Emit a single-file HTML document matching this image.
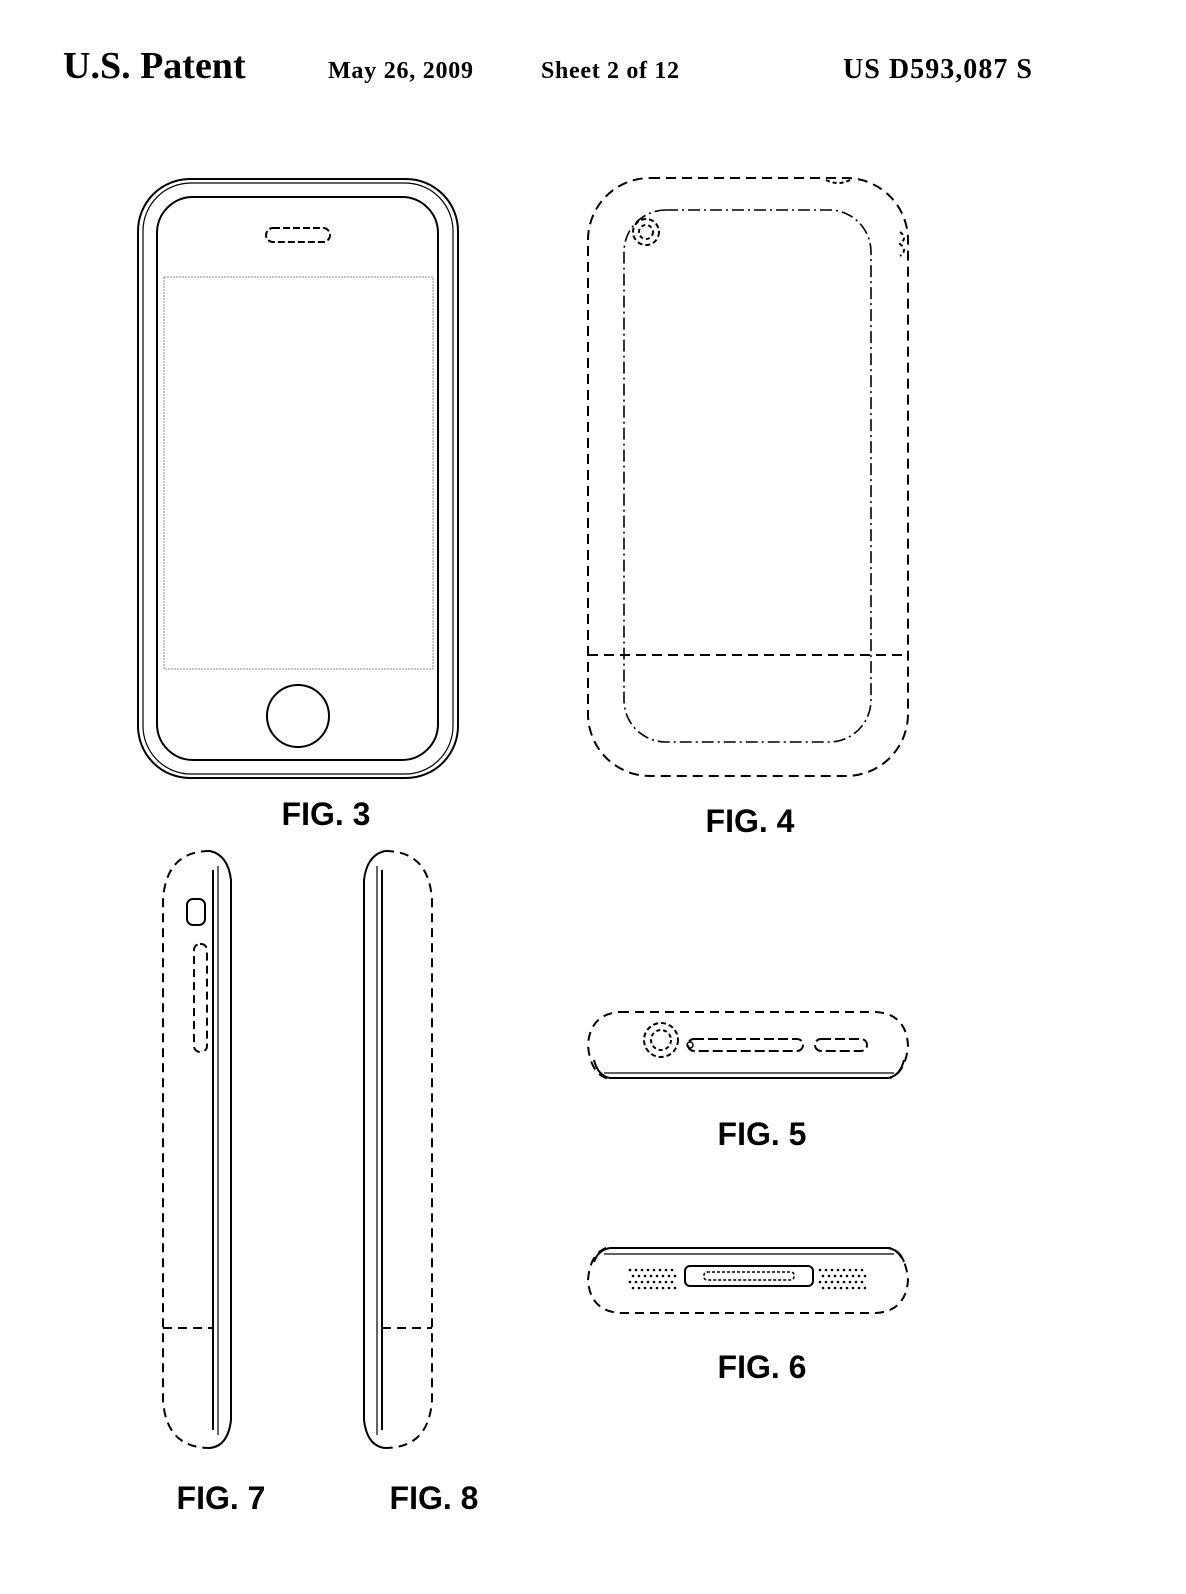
<!DOCTYPE html>
<html><head><meta charset="utf-8"><style>
html,body{margin:0;padding:0;background:#fff;}
svg{display:block;}
</style></head><body>
<svg width="1186" height="1594" viewBox="0 0 1186 1594" xmlns="http://www.w3.org/2000/svg">
<rect width="1186" height="1594" fill="#fff"/>
<g font-family="Liberation Serif, serif" font-weight="bold" fill="#000">
<text x="63" y="78" font-size="38">U.S. Patent</text>
<text x="328" y="78" font-size="24" textLength="145">May 26, 2009</text>
<text x="541" y="78" font-size="24" textLength="138">Sheet 2 of 12</text>
<text x="843" y="78" font-size="28" textLength="189">US D593,087 S</text>
</g>
<g font-family="Liberation Sans, sans-serif" font-weight="bold" font-size="32" fill="#000" text-anchor="middle">
<text x="326" y="825">FIG. 3</text>
<text x="750" y="832">FIG. 4</text>
<text x="762" y="1145">FIG. 5</text>
<text x="762" y="1378">FIG. 6</text>
<text x="221" y="1509">FIG. 7</text>
<text x="434" y="1509">FIG. 8</text>
</g>
<g fill="none" stroke="#000" stroke-width="2">
<rect x="138" y="179" width="320" height="599" rx="52"/>
<rect x="143" y="183" width="310" height="591" rx="48" stroke-width="1.2"/>
<rect x="157" y="197" width="281" height="563" rx="36"/>
<rect x="164" y="277" width="269" height="392" stroke="#888" stroke-width="1" stroke-dasharray="2 1"/>
<rect x="266" y="228" width="64" height="14" rx="7" stroke-dasharray="7 3"/>
<circle cx="298" cy="716" r="31"/>
<rect x="588" y="178" width="320" height="598" rx="62" stroke-dasharray="10 6"/>
<rect x="624" y="210" width="247" height="532" rx="42" stroke-dasharray="12 4 2 4" stroke-width="1.6"/>
<line x1="588" y1="655" x2="908" y2="655" stroke-dasharray="10 6"/>
<circle cx="646" cy="232" r="13" stroke-dasharray="5 3"/>
<circle cx="646" cy="232" r="7" stroke-dasharray="4 3"/>
<path d="M900 232 q8 6 0 12 q8 6 0 12" stroke-dasharray="4 3"/>
<path d="M826 180 q12 6 24 0" stroke-dasharray="4 3"/>
<path d="M210 851 Q166 851 163 900 L163 1400 Q166 1448 210 1448" stroke-dasharray="9 6"/>
<path d="M210 851 Q228 855 231 880 L231 1420 Q228 1446 210 1448"/>
<line x1="213" y1="870" x2="213" y2="1430"/>
<line x1="218" y1="866" x2="218" y2="1435" stroke-width="1.2"/>
<line x1="163" y1="1328" x2="213" y2="1328" stroke-dasharray="9 6"/>
<rect x="187" y="899" width="18" height="26" rx="6"/>
<rect x="194" y="944" width="13" height="108" rx="6" stroke-dasharray="8 5"/>
<path d="M385 851 Q429 851 432 900 L432 1400 Q429 1448 385 1448" stroke-dasharray="9 6"/>
<path d="M385 851 Q367 855 364 880 L364 1420 Q367 1446 385 1448"/>
<line x1="382" y1="870" x2="382" y2="1430"/>
<line x1="377" y1="866" x2="377" y2="1435" stroke-width="1.2"/>
<line x1="382" y1="1328" x2="432" y2="1328" stroke-dasharray="9 6"/>
<path d="M620 1012 L876 1012 Q906 1014 908 1045 Q906 1072 890 1078 L606 1078 Q590 1072 588 1045 Q590 1014 620 1012 Z" stroke-dasharray="9 6"/>
<path d="M594 1060 Q598 1076 610 1078 L888 1078 Q900 1076 904 1060"/>
<line x1="604" y1="1073" x2="894" y2="1073" stroke-width="1.2"/>
<circle cx="661" cy="1040" r="17" stroke-dasharray="5 3"/>
<circle cx="661" cy="1040" r="10" stroke-dasharray="4 3"/>
<circle cx="690" cy="1045" r="3" stroke-width="1.5"/>
<rect x="688" y="1039" width="115" height="12" rx="6" stroke-dasharray="10 4"/>
<rect x="815" y="1039" width="52" height="12" rx="6" stroke-dasharray="10 4"/>
<path d="M620 1313 L876 1313 Q906 1311 908 1280 Q906 1254 890 1248 L606 1248 Q590 1254 588 1280 Q590 1311 620 1313 Z" stroke-dasharray="9 6"/>
<path d="M594 1262 Q598 1250 610 1248 L888 1248 Q900 1250 904 1262"/>
<line x1="604" y1="1254" x2="894" y2="1254" stroke-width="1.2"/>
<rect x="685" y="1266" width="128" height="20" rx="5"/>
<rect x="704" y="1272" width="90" height="8" rx="3" stroke-dasharray="3 2" stroke-width="1.5"/>
</g>
<g fill="#000">
<g id="dots">
<circle cx="630" cy="1270" r="1.3"/><circle cx="636" cy="1270" r="1.3"/><circle cx="642" cy="1270" r="1.3"/><circle cx="648" cy="1270" r="1.3"/><circle cx="654" cy="1270" r="1.3"/><circle cx="660" cy="1270" r="1.3"/><circle cx="666" cy="1270" r="1.3"/><circle cx="672" cy="1270" r="1.3"/>
<circle cx="633" cy="1276" r="1.3"/><circle cx="639" cy="1276" r="1.3"/><circle cx="645" cy="1276" r="1.3"/><circle cx="651" cy="1276" r="1.3"/><circle cx="657" cy="1276" r="1.3"/><circle cx="663" cy="1276" r="1.3"/><circle cx="669" cy="1276" r="1.3"/><circle cx="675" cy="1276" r="1.3"/>
<circle cx="630" cy="1282" r="1.3"/><circle cx="636" cy="1282" r="1.3"/><circle cx="642" cy="1282" r="1.3"/><circle cx="648" cy="1282" r="1.3"/><circle cx="654" cy="1282" r="1.3"/><circle cx="660" cy="1282" r="1.3"/><circle cx="666" cy="1282" r="1.3"/><circle cx="672" cy="1282" r="1.3"/>
<circle cx="633" cy="1288" r="1.3"/><circle cx="639" cy="1288" r="1.3"/><circle cx="645" cy="1288" r="1.3"/><circle cx="651" cy="1288" r="1.3"/><circle cx="657" cy="1288" r="1.3"/><circle cx="663" cy="1288" r="1.3"/><circle cx="669" cy="1288" r="1.3"/><circle cx="675" cy="1288" r="1.3"/>
</g>
<use href="#dots" x="190"/>
</g>
</svg>
</body></html>
